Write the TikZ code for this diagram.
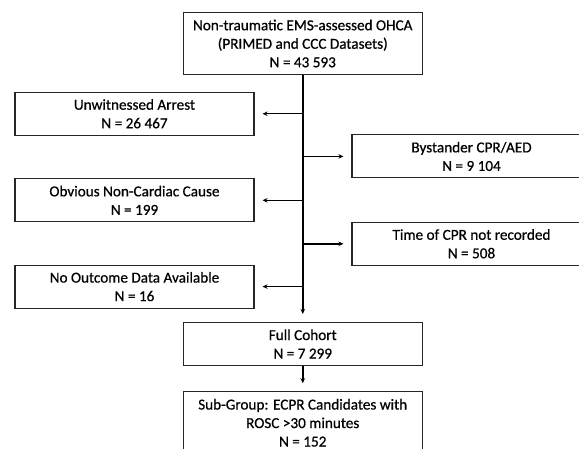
\documentclass[tikz,border=0pt]{standalone}
\usepackage{fontspec}
\setmainfont[FakeBold=0.6,AutoFakeBold=0]{Carlito}
\usetikzlibrary{arrows.meta}
\begin{document}
\begin{tikzpicture}[x=1pt,y=-1pt,
  box/.style={draw=black!85, line width=1.1pt, align=center,
    font=\fontsize{15.2}{18.5}\selectfont, text=black,
    minimum width=239pt, inner sep=0pt},
  twoline/.style={box, minimum height=43pt},
  threeline/.style={box, minimum height=62pt},
  arr/.style={line width=1.5pt, -{Stealth[length=5pt,width=4.5pt]}, shorten >=8pt}]
\useasboundingbox (0,0) rectangle (579,449);
\fill[white] (0,0) rectangle (579,449);
\clip (0,0) rectangle (579,449);

\node[threeline] (top) at (302.75,43.5) {Non-traumatic EMS-assessed OHCA\\(PRIMED and CCC Datasets)\\N = 43 593};
\node[twoline] (unw) at (134.5,113.75) {Unwitnessed Arrest\\N = 26 467};
\node[twoline] (bys) at (471.5,156.4) {Bystander CPR/AED\\N = 9 104};
\node[twoline] (obv) at (134.5,200.3) {Obvious Non-Cardiac Cause\\N = 199};
\node[twoline] (tim) at (471.5,243.8) {Time of CPR not recorded\\N = 508};
\node[twoline] (nod) at (134.5,286.6) {No Outcome Data Available\\N = 16};
\node[twoline] (full) at (302.75,344) {Full Cohort\\N = 7 299};
\node[threeline] (sub) at (302.75,422.8) {Sub-Group: ECPR Candidates with\\ROSC >30 minutes\\N = 152};

\draw[arr] (top.south) -- (full.north);
\draw[arr] (full.south) -- (sub.north);
\draw[arr] (top.south |- unw.east) -- (unw.east);
\draw[arr] (top.south |- bys.west) -- (bys.west);
\draw[arr] (top.south |- obv.east) -- (obv.east);
\draw[arr] (top.south |- tim.west) -- (tim.west);
\draw[arr] (top.south |- nod.east) -- (nod.east);
\end{tikzpicture}
\end{document}
